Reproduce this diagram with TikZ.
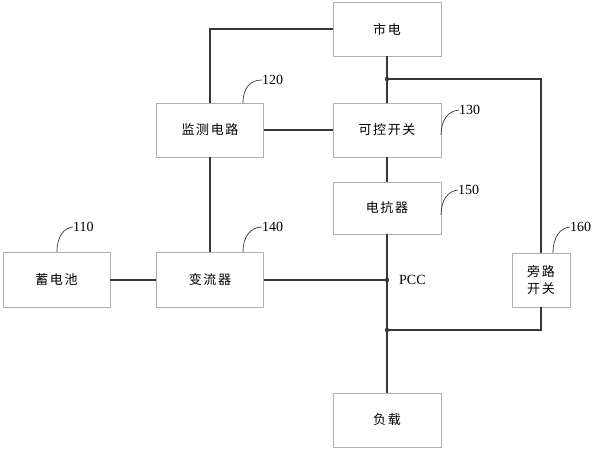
\documentclass[tikz,border=0pt]{standalone}
\usepackage{fontspec}
\setmainfont{Liberation Serif}
\newfontfamily\cjk[LetterSpace=12]{Noto Sans CJK SC}
\definecolor{boxgray}{RGB}{175,175,175}
\definecolor{wire}{RGB}{55,55,55}
\begin{document}
\begin{tikzpicture}[x=1pt,y=-1pt,
  blk/.style={draw=boxgray,line width=0.9pt,fill=white,inner sep=0pt,font=\cjk\fontsize{13}{17}\selectfont},
  wireline/.style={draw=wire,line width=1.4pt},
  lead/.style={draw=wire,line width=0.7pt},
  num/.style={font=\fontsize{14}{16}\selectfont,inner sep=0pt,anchor=west},
  jdot/.style={circle,fill=wire,inner sep=0pt,minimum size=4.5pt}]
\useasboundingbox (0,0) rectangle (597,450);
% blocks
\node[blk,minimum width=108pt,minimum height=54pt] (grid) at (387,29) {市电};
\node[blk,minimum width=107pt,minimum height=54pt] (mon) at (210,130) {监测电路};
\node[blk,minimum width=108pt,minimum height=54pt] (sw) at (387,130) {可控开关};
\node[blk,minimum width=108pt,minimum height=52pt] (reac) at (387,208) {电抗器};
\node[blk,minimum width=107pt,minimum height=55pt] (bat) at (56.5,280) {蓄电池};
\node[blk,minimum width=107pt,minimum height=55pt] (conv) at (210,280) {变流器};
\node[blk,minimum width=58pt,minimum height=54pt,align=center] (byp) at (541,280) {旁路\\开关};
\node[blk,minimum width=108pt,minimum height=54pt] (load) at (387,420) {负载};
% junction coordinates
\coordinate (j1) at (387,79);
\coordinate (pcc) at (387,280);
\coordinate (j2) at (387,330);
\node[num,anchor=west] (pcclab) at (399,280) {PCC};
% wires
\draw[wireline] (grid.west) -| (mon.north);
\draw[wireline] (mon.east) -- (sw.west);
\draw[wireline] (mon.south) -- (conv.north);
\draw[wireline] (bat.east) -- (conv.west);
\draw[wireline] (conv.east) -- (pcc);
\draw[wireline] (grid.south) -- (sw.north);
\draw[wireline] (j1) -| (byp.north);
\draw[wireline] (sw.south) -- (reac.north);
\draw[wireline] (reac.south) -- (load.north);
\draw[wireline] (byp.south) |- (j2);
% dots
\node[jdot] (d1) at (j1) {};
\node[jdot] (d2) at (pcc) {};
\node[jdot] (d3) at (j2) {};
% labels
\node[num] (n110) at (73,227) {110};
\node[num] (n120) at (262,80) {120};
\node[num] (n130) at (459,110) {130};
\node[num] (n140) at (262,227) {140};
\node[num] (n150) at (458,190) {150};
\node[num] (n160) at (570,227) {160};
\draw[lead] (57,252) .. controls (57,236) and (64,228) .. (n110.west);
\draw[lead] (243,103) .. controls (243,87) and (251,80) .. (n120.west);
\draw[lead] (441,135) .. controls (441,120) and (448,111) .. (n130.west);
\draw[lead] (243,252) .. controls (243,236) and (251,227) .. (n140.west);
\draw[lead] (441,215) .. controls (441,200) and (448,191) .. (n150.west);
\draw[lead] (553,253) .. controls (553,237) and (560,228) .. (n160.west);
\end{tikzpicture}
\end{document}
